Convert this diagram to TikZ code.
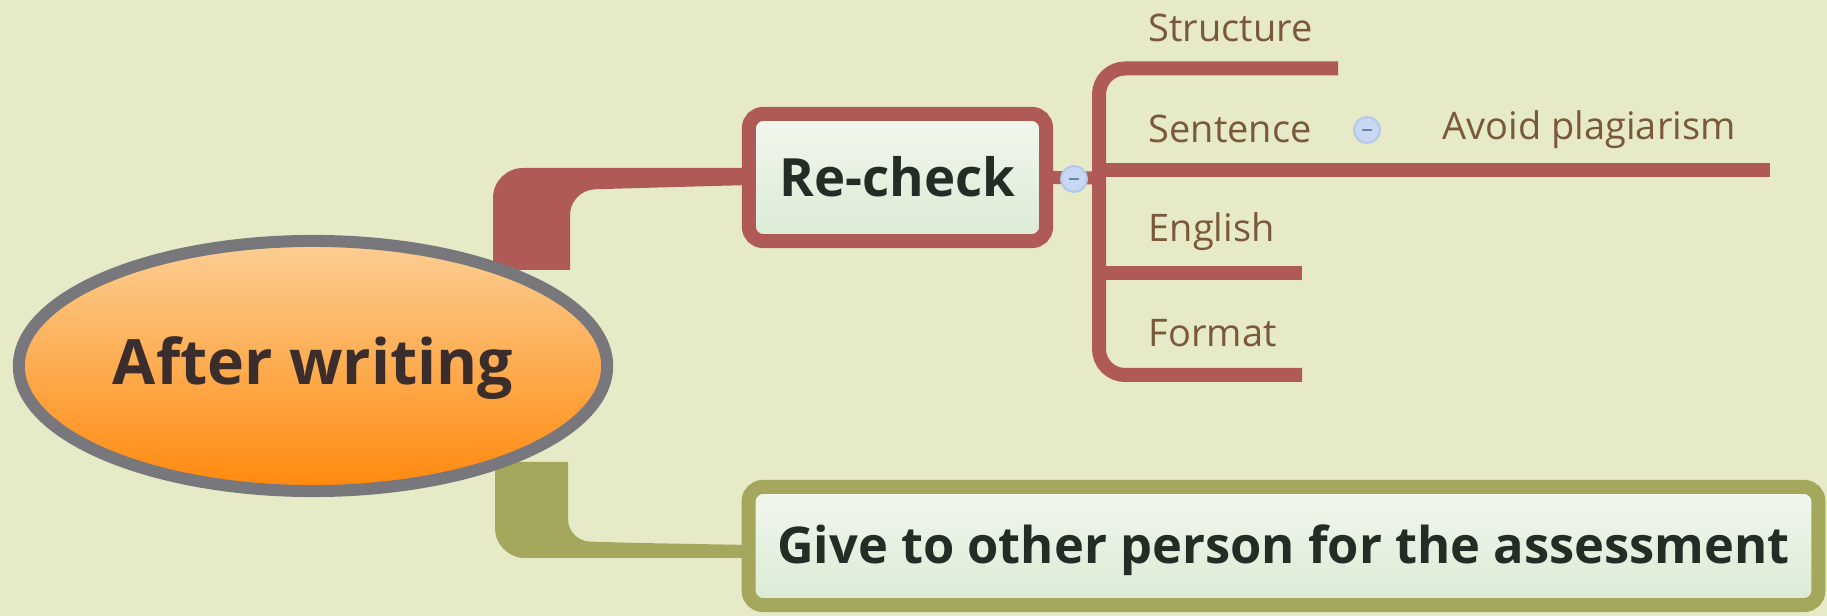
\documentclass[tikz,border=0pt]{standalone}
\usepackage{fontspec}
\setmainfont{Open Sans}
\usetikzlibrary{shapes.geometric,calc}

\definecolor{bgcol}{RGB}{230,234,198}
\definecolor{redbr}{RGB}{176,90,88}
\definecolor{olivebr}{RGB}{165,168,92}
\definecolor{rootline}{RGB}{120,120,124}
\definecolor{roottop}{RGB}{252,206,148}
\definecolor{rootmid}{RGB}{253,172,80}
\definecolor{rootbot}{RGB}{255,136,12}
\definecolor{roottext}{RGB}{60,45,45}
\definecolor{boxtop}{RGB}{243,247,238}
\definecolor{boxbot}{RGB}{218,235,212}
\definecolor{darktext}{RGB}{35,45,38}
\definecolor{leafcol}{RGB}{122,88,58}
\definecolor{togfill}{RGB}{200,215,242}
\definecolor{togline}{RGB}{180,200,235}
\definecolor{togminus}{RGB}{110,130,170}

\pgfdeclarelayer{bg}
\pgfdeclarelayer{back}
\pgfsetlayers{bg,back,main}

\begin{document}
\begin{tikzpicture}[x=0.01cm,y=-0.01cm,
  topic/.style={draw, line width=0.14cm, rounded corners=0.14cm,
    top color=boxtop, bottom color=boxbot, text=darktext,
    font=\fontsize{15}{18}\selectfont\bfseries, inner sep=0pt, text depth=0pt},
  leaf/.style={text=leafcol, font=\fontsize{10.8}{13}\selectfont, inner sep=0pt, anchor=base west},
  subline/.style={draw=redbr, line width=0.14cm},
  toggle/.style={circle, minimum size=0.26cm, inner sep=0pt, fill=togfill,
    draw=togline, line width=0.02cm,
    path picture={\draw[togminus, line width=0.025cm]
      ([xshift=-0.05cm]path picture bounding box.center) --
      ([xshift=0.05cm]path picture bounding box.center);}}]

\begin{pgfonlayer}{bg}
  \fill[bgcol] (0,0) rectangle (1827,616);
\end{pgfonlayer}
\useasboundingbox (0,0) rectangle (1827,616);

% central topic
\node[ellipse, draw=rootline, line width=0.12cm, minimum width=5.88cm,
  minimum height=2.5cm, inner sep=0pt, top color=roottop, bottom color=rootbot,
  middle color=rootmid, text=roottext, font=\fontsize{17.8}{21}\selectfont\bfseries,
  text height=10.6pt, text depth=0pt] (root) at (313,366) {After writing};

% main topics
\node[topic, draw=redbr, minimum width=2.97cm, minimum height=1.27cm,
  text height=11pt] (recheck) at (897.5,177.5) {Re-check};
\node[topic, draw=olivebr, minimum width=10.69cm, minimum height=1.18cm,
  font=\fontsize{14.4}{17}\selectfont\bfseries,
  text height=10pt] (give) at (1283.5,546) {Give to other person for the assessment};

% tapered branches from the central topic
\begin{pgfonlayer}{back}
  \fill[redbr] (570,270) -- (493,270) -- (493,240) [rounded corners=0.3cm]
    -- (493,168) -- (620,168) [sharp corners]
    -- ($(recheck.west)+(8,-9.5)$) -- ($(recheck.west)+(8,7.5)$)
    -- (640,188) [rounded corners=0.25cm] -- (570,190) -- (570,230)
    [sharp corners] -- cycle;
  \fill[olivebr] (568,462) -- (495,462) -- (495,500) [rounded corners=0.3cm]
    -- (495,558) -- (620,558) [sharp corners]
    -- ($(give.west)+(8,12)$) -- ($(give.west)+(8,-1)$)
    -- (640,543) [rounded corners=0.22cm] -- (568,541) -- (568,500)
    [sharp corners] -- cycle;
\end{pgfonlayer}

% subtopic lines
\coordinate (hub) at (1099,178);
\coordinate (e1) at (1338,68.5);
\coordinate (e2) at (1770,170);
\coordinate (e3) at (1302,273);
\coordinate (e4) at (1302,375);

\draw[redbr, line width=0.13cm] (recheck.east) -- (hub);
\draw[subline, rounded corners=0.26cm] (e1) -- (hub |- e1) -- (hub |- e4) -- (e4);
\draw[subline] (hub |- e2) -- (e2);
\draw[subline] (hub |- e3) -- (e3);

% subtopic labels
\node[leaf] (structure) at (1148,42) {Structure};
\node[leaf] (sentence) at (1148,143) {Sentence};
\node[leaf] (english) at (1148,242) {English};
\node[leaf] (format) at (1148,347) {Format};
\node[leaf] (avoid) at (1442,140) {Avoid plagiarism};

% collapse buttons
\node[toggle] (tog1) at (1074,179) {};
\node[toggle] (tog2) at (1367,130) {};

\end{tikzpicture}
\end{document}
